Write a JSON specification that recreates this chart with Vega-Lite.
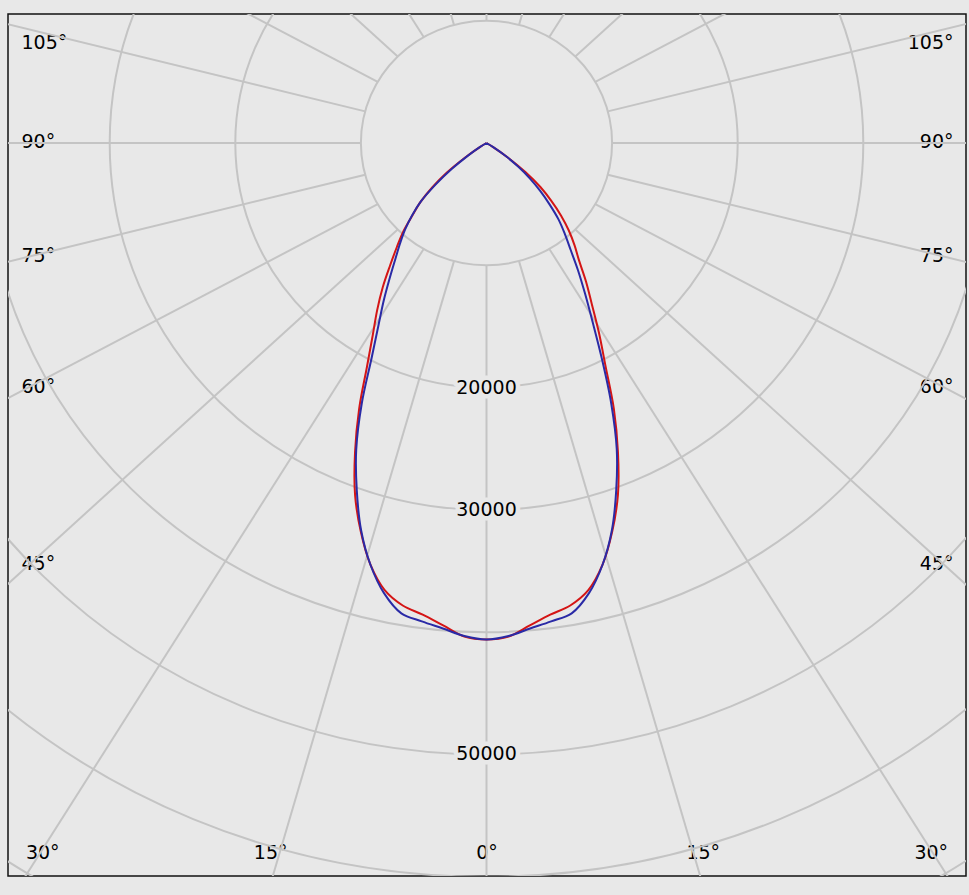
{
  "$schema": "https://vega.github.io/schema/vega-lite/v6.json",
  "width": 958,
  "height": 862,
  "autosize": {"type": "none"},
  "padding": {"left": 8, "top": 14, "right": 3, "bottom": 19},
  "background": "#e8e8e8",
  "config": {
    "view": {"stroke": "#111111", "strokeWidth": 1.5, "fill": "#e8e8e8"},
    "axis": {
      "labelFont": "DejaVu Sans",
      "labelFontSize": 19,
      "labelColor": "#000000",
      "domain": false,
      "ticks": false,
      "tickSize": 0,
      "grid": false,
      "labelOverlap": false,
      "labelFlush": false,
      "zindex": 1
    },
    "text": {"font": "DejaVu Sans", "fontSize": 19}
  },
  "datasets": {
    "rings": [
      {"v": 10000}, {"v": 20000}, {"v": 30000}, {"v": 40000},
      {"v": 50000}, {"v": 60000}, {"v": 70000}
    ],
    "spokes": [
      {"a": 0}, {"a": 15}, {"a": 30}, {"a": 45}, {"a": 60}, {"a": 75},
      {"a": 90}, {"a": 105}, {"a": 120}, {"a": 135}, {"a": 150}, {"a": 165},
      {"a": 180}, {"a": 195}, {"a": 210}, {"a": 225}, {"a": 240}, {"a": 255},
      {"a": 270}, {"a": 285}, {"a": 300}, {"a": 315}, {"a": 330}, {"a": 345}
    ],
    "ringLabels": [{"v": 20000}, {"v": 30000}, {"v": 50000}],
    "curves": [
      {"s": "C0-C180", "g": -60, "cd": 0},
      {"s": "C0-C180", "g": -57.5, "cd": 700},
      {"s": "C0-C180", "g": -55, "cd": 2100},
      {"s": "C0-C180", "g": -52.5, "cd": 4000},
      {"s": "C0-C180", "g": -50, "cd": 5600},
      {"s": "C0-C180", "g": -47.5, "cd": 7100},
      {"s": "C0-C180", "g": -45, "cd": 8300},
      {"s": "C0-C180", "g": -42.5, "cd": 9800},
      {"s": "C0-C180", "g": -40, "cd": 11100},
      {"s": "C0-C180", "g": -37.5, "cd": 12600},
      {"s": "C0-C180", "g": -35, "cd": 14400},
      {"s": "C0-C180", "g": -32.5, "cd": 16200},
      {"s": "C0-C180", "g": -30, "cd": 18100},
      {"s": "C0-C180", "g": -27.5, "cd": 20600},
      {"s": "C0-C180", "g": -25, "cd": 24000},
      {"s": "C0-C180", "g": -22.5, "cd": 27350},
      {"s": "C0-C180", "g": -20, "cd": 30600},
      {"s": "C0-C180", "g": -17.5, "cd": 33300},
      {"s": "C0-C180", "g": -15, "cd": 35700},
      {"s": "C0-C180", "g": -12.5, "cd": 37450},
      {"s": "C0-C180", "g": -10, "cd": 38400},
      {"s": "C0-C180", "g": -7.5, "cd": 38900},
      {"s": "C0-C180", "g": -5, "cd": 39600},
      {"s": "C0-C180", "g": -2.5, "cd": 40400},
      {"s": "C0-C180", "g": 0, "cd": 40600},
      {"s": "C0-C180", "g": 2.5, "cd": 40400},
      {"s": "C0-C180", "g": 5, "cd": 39600},
      {"s": "C0-C180", "g": 7.5, "cd": 38900},
      {"s": "C0-C180", "g": 10, "cd": 38400},
      {"s": "C0-C180", "g": 12.5, "cd": 37450},
      {"s": "C0-C180", "g": 15, "cd": 35700},
      {"s": "C0-C180", "g": 17.5, "cd": 33300},
      {"s": "C0-C180", "g": 20, "cd": 30600},
      {"s": "C0-C180", "g": 22.5, "cd": 27350},
      {"s": "C0-C180", "g": 25, "cd": 24000},
      {"s": "C0-C180", "g": 27.5, "cd": 20500},
      {"s": "C0-C180", "g": 30, "cd": 17900},
      {"s": "C0-C180", "g": 32.5, "cd": 15600},
      {"s": "C0-C180", "g": 35, "cd": 13800},
      {"s": "C0-C180", "g": 37.5, "cd": 12100},
      {"s": "C0-C180", "g": 40, "cd": 10900},
      {"s": "C0-C180", "g": 42.5, "cd": 9700},
      {"s": "C0-C180", "g": 45, "cd": 8400},
      {"s": "C0-C180", "g": 47.5, "cd": 7000},
      {"s": "C0-C180", "g": 50, "cd": 5600},
      {"s": "C0-C180", "g": 52.5, "cd": 3900},
      {"s": "C0-C180", "g": 55, "cd": 2100},
      {"s": "C0-C180", "g": 57.5, "cd": 700},
      {"s": "C0-C180", "g": 60, "cd": 0},
      {"s": "C90-C270", "g": -60, "cd": 0},
      {"s": "C90-C270", "g": -57.5, "cd": 600},
      {"s": "C90-C270", "g": -55, "cd": 1800},
      {"s": "C90-C270", "g": -52.5, "cd": 3500},
      {"s": "C90-C270", "g": -50, "cd": 5300},
      {"s": "C90-C270", "g": -47.5, "cd": 7100},
      {"s": "C90-C270", "g": -45, "cd": 8400},
      {"s": "C90-C270", "g": -42.5, "cd": 9600},
      {"s": "C90-C270", "g": -40, "cd": 10700},
      {"s": "C90-C270", "g": -37.5, "cd": 11900},
      {"s": "C90-C270", "g": -35, "cd": 13400},
      {"s": "C90-C270", "g": -32.5, "cd": 15200},
      {"s": "C90-C270", "g": -30, "cd": 17200},
      {"s": "C90-C270", "g": -27.5, "cd": 19800},
      {"s": "C90-C270", "g": -25, "cd": 23500},
      {"s": "C90-C270", "g": -22.5, "cd": 27100},
      {"s": "C90-C270", "g": -20, "cd": 30200},
      {"s": "C90-C270", "g": -17.5, "cd": 33200},
      {"s": "C90-C270", "g": -15, "cd": 35700},
      {"s": "C90-C270", "g": -12.5, "cd": 37700},
      {"s": "C90-C270", "g": -10, "cd": 39050},
      {"s": "C90-C270", "g": -7.5, "cd": 39450},
      {"s": "C90-C270", "g": -5, "cd": 39850},
      {"s": "C90-C270", "g": -2.5, "cd": 40350},
      {"s": "C90-C270", "g": 0, "cd": 40600},
      {"s": "C90-C270", "g": 2.5, "cd": 40350},
      {"s": "C90-C270", "g": 5, "cd": 39850},
      {"s": "C90-C270", "g": 7.5, "cd": 39450},
      {"s": "C90-C270", "g": 10, "cd": 39050},
      {"s": "C90-C270", "g": 12.5, "cd": 37700},
      {"s": "C90-C270", "g": 15, "cd": 35700},
      {"s": "C90-C270", "g": 17.5, "cd": 33200},
      {"s": "C90-C270", "g": 20, "cd": 30200},
      {"s": "C90-C270", "g": 22.5, "cd": 27100},
      {"s": "C90-C270", "g": 25, "cd": 23500},
      {"s": "C90-C270", "g": 27.5, "cd": 19900},
      {"s": "C90-C270", "g": 30, "cd": 16900},
      {"s": "C90-C270", "g": 32.5, "cd": 14600},
      {"s": "C90-C270", "g": 35, "cd": 12700},
      {"s": "C90-C270", "g": 37.5, "cd": 11000},
      {"s": "C90-C270", "g": 40, "cd": 9700},
      {"s": "C90-C270", "g": 42.5, "cd": 8500},
      {"s": "C90-C270", "g": 45, "cd": 7100},
      {"s": "C90-C270", "g": 47.5, "cd": 5800},
      {"s": "C90-C270", "g": 50, "cd": 4500},
      {"s": "C90-C270", "g": 52.5, "cd": 3200},
      {"s": "C90-C270", "g": 55, "cd": 1900},
      {"s": "C90-C270", "g": 57.5, "cd": 600},
      {"s": "C90-C270", "g": 60, "cd": 0}
    ]
  },
  "resolve": {"axis": {"x": "independent", "y": "independent"}},
  "layer": [
    {
      "data": {"name": "rings"},
      "mark": {
        "type": "point",
        "shape": "M-1,0A1,0.9737,0,1,0,1,0A1,0.9737,0,1,0,-1,0Z",
        "filled": false,
        "color": "#c4c4c4",
        "opacity": 1,
        "strokeWidth": 2,
        "clip": true
      },
      "encoding": {
        "x": {"datum": 0, "type": "quantitative", "axis": null,
              "scale": {"domain": [-38097, 38177], "nice": false, "zero": false}},
        "y": {"datum": 0, "type": "quantitative", "axis": null,
              "scale": {"domain": [-59935, 10548], "nice": false, "zero": false}},
        "size": {
          "field": "v",
          "type": "quantitative",
          "legend": null,
          "scale": {"type": "pow", "exponent": 2, "domain": [0, 70000], "range": [0, 3091971], "zero": true}
        }
      }
    },
    {
      "data": {"name": "spokes"},
      "transform": [
        {"calculate": "10000 * sin(datum.a * PI / 180)", "as": "x1"},
        {"calculate": "-10000 * cos(datum.a * PI / 180)", "as": "y1"},
        {"calculate": "1.063 * 90000 * sin(datum.a * PI / 180)", "as": "x2"},
        {"calculate": "-90000 * cos(datum.a * PI / 180)", "as": "y2"}
      ],
      "mark": {"type": "rule", "stroke": "#c4c4c4", "strokeWidth": 2, "clip": true},
      "encoding": {
        "x": {"field": "x1", "type": "quantitative", "axis": null, "title": null},
        "y": {"field": "y1", "type": "quantitative", "axis": null, "title": null},
        "x2": {"field": "x2"},
        "y2": {"field": "y2"}
      }
    },
    {
      "data": {"name": "curves"},
      "transform": [
        {"calculate": "datum.cd * sin(datum.g * PI / 180)", "as": "px"},
        {"calculate": "-datum.cd * cos(datum.g * PI / 180)", "as": "py"}
      ],
      "mark": {"type": "line", "strokeWidth": 2, "interpolate": "catmull-rom", "clip": true},
      "encoding": {
        "x": {
          "field": "px",
          "type": "quantitative",
          "title": null,
          "axis": {
            "orient": "bottom",
            "values": [-35370, -17220, 0, 17220, 35370],
            "labelExpr": "abs(datum.value) > 26000 ? '30°' : abs(datum.value) > 8000 ? '15°' : '0°'",
            "labelAlign": "center",
            "labelBaseline": "middle",
            "labelPadding": 0,
            "offset": -24
          }
        },
        "y": {
          "field": "py",
          "type": "quantitative",
          "title": null,
          "axis": {
            "orient": "left",
            "values": [8258, 100, -9158, -19910, -34342],
            "labelExpr": "datum.value > 5000 ? '105°' : datum.value > -5000 ? '90°' : datum.value > -15000 ? '75°' : datum.value > -25000 ? '60°' : '45°'",
            "labelAlign": "left",
            "labelBaseline": "middle",
            "labelPadding": -13
          }
        },
        "order": {"field": "g", "type": "quantitative"},
        "color": {
          "field": "s",
          "type": "nominal",
          "legend": null,
          "scale": {"domain": ["C0-C180", "C90-C270"], "range": ["#d41515", "#2a2aa6"]}
        }
      }
    },
    {
      "data": {"name": "ringLabels"},
      "transform": [{"calculate": "-datum.v", "as": "ly"}],
      "mark": {
        "type": "text",
        "fill": "#e8e8e8",
        "stroke": "#e8e8e8",
        "strokeWidth": 9,
        "strokeJoin": "round",
        "baseline": "middle",
        "align": "center"
      },
      "encoding": {
        "x": {"datum": 0, "type": "quantitative", "axis": null},
        "y": {"field": "ly", "type": "quantitative", "axis": null, "title": null},
        "text": {"field": "v", "type": "quantitative", "format": "d"}
      }
    },
    {
      "data": {"name": "ringLabels"},
      "transform": [{"calculate": "-datum.v", "as": "ly"}],
      "mark": {"type": "text", "color": "#000000", "baseline": "middle", "align": "center"},
      "encoding": {
        "x": {"datum": 0, "type": "quantitative", "axis": null},
        "y": {
          "field": "ly",
          "type": "quantitative",
          "title": null,
          "axis": {
            "orient": "right",
            "values": [8258, 100, -9158, -19910, -34342],
            "labelExpr": "datum.value > 5000 ? '105°' : datum.value > -5000 ? '90°' : datum.value > -15000 ? '75°' : datum.value > -25000 ? '60°' : '45°'",
            "labelAlign": "right",
            "labelBaseline": "middle",
            "labelPadding": -13
          }
        },
        "text": {"field": "v", "type": "quantitative", "format": "d"}
      }
    }
  ]
}
